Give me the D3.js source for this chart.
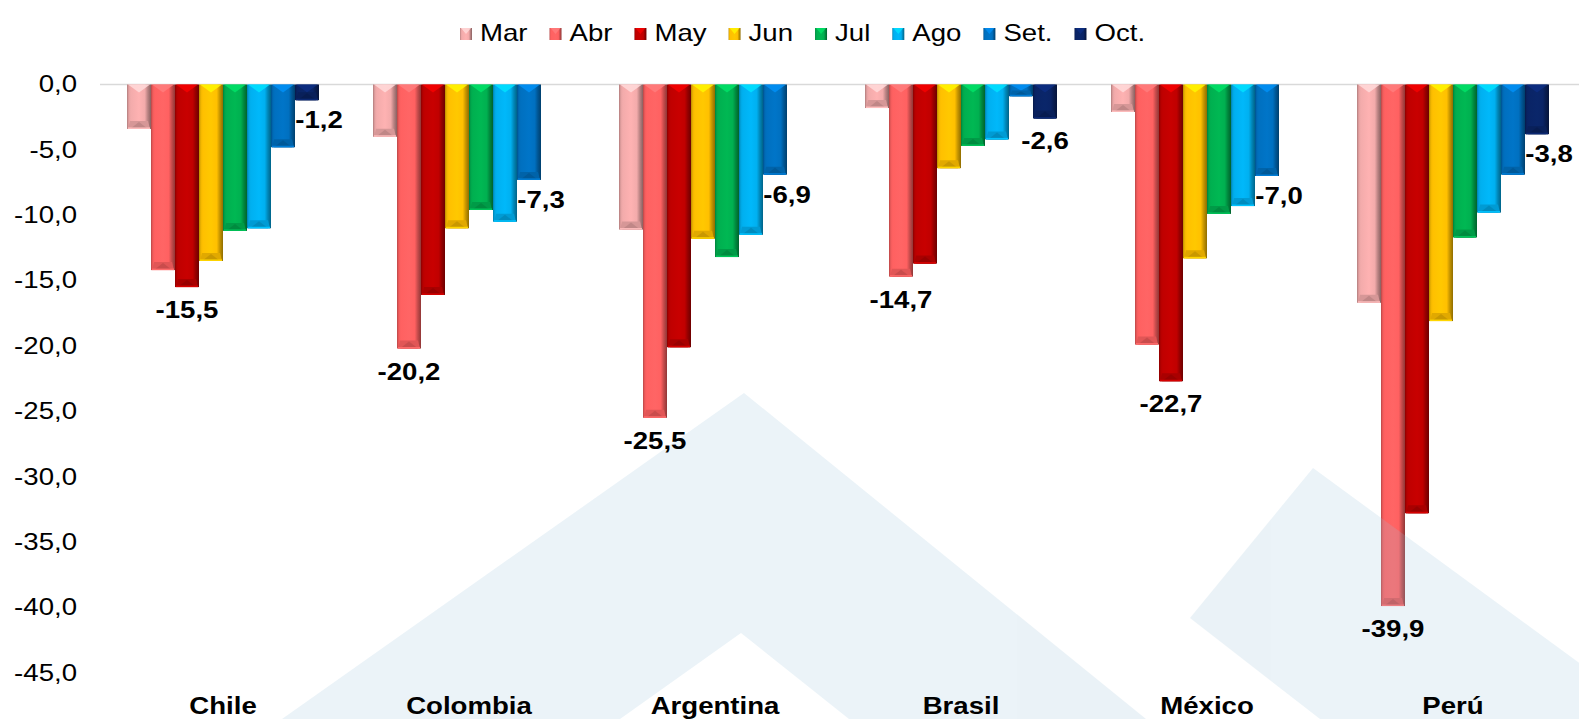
<!DOCTYPE html>
<html>
<head>
<meta charset="utf-8">
<script src="https://cdn.jsdelivr.net/npm/d3@7"></script>
<style>
  html, body { margin: 0; padding: 0; background: #ffffff; }
  svg { display: block; }
  text { font-family: "Liberation Sans", Arial, sans-serif; }
</style>
</head>
<body>
<svg id="chart" width="1579" height="719"></svg>
<script>
// ---- data ----
const countries = ["Chile", "Colombia", "Argentina", "Brasil", "México", "Perú"];
const months = ["Mar", "Abr", "May", "Jun", "Jul", "Ago", "Set.", "Oct."];
const mar = [-3.4, -4.0, -11.1, -1.8, -2.1, -16.7];
const abr = [-14.2, -20.2, -25.5, -14.7, -19.9, -39.9];
const may = [-15.5, -16.1, -20.1, -13.7, -22.7, -32.8];
const jun = [-13.5, -11.0, -11.8, -6.4, -13.3, -18.1];
const jul = [-11.2, -9.6, -13.2, -4.7, -9.9, -11.7];
const ago = [-11.0, -10.5, -11.5, -4.2, -9.3, -9.8];
const sep = [-4.8, -7.3, -6.9, -0.9, -7.0, -6.9];
const oct = [-1.2, null, null, -2.6, null, -3.8];
const yTicks = [0, -5, -10, -15, -20, -25, -30, -35, -40, -45];
// which bars carry a value label, and how it is anchored
const labeled = [
  ["Chile", "May", "below"], ["Chile", "Oct.", "right"],
  ["Colombia", "Abr", "below"], ["Colombia", "Set.", "right"],
  ["Argentina", "Abr", "below"], ["Argentina", "Set.", "right"],
  ["Brasil", "Abr", "below"], ["Brasil", "Oct.", "below"],
  ["México", "May", "below"], ["México", "Set.", "right"],
  ["Perú", "Abr", "below"], ["Perú", "Oct.", "right"]
];

const seriesValues = [mar, abr, may, jun, jul, ago, sep, oct];
const colors = ["#F3ABAB", "#FF6161", "#C00000", "#FFC000", "#00B050", "#00B0F0", "#0070C0", "#0A2466"];

const rows = [];
countries.forEach((c, ci) => months.forEach((m, mi) => {
  const v = seriesValues[mi][ci];
  if (v !== null && v !== undefined) rows.push({ country: c, month: m, mi, value: v });
}));

// ---- layout ----
const svg = d3.select("#chart");
const FONT = 23, SX = 1.2;
const fmt = d => d.toFixed(1).replace(".", ",").replace("-0,0", "0,0");

const x0 = d3.scaleBand().domain(countries).range([100, 1576]).paddingInner(0).paddingOuter(0);
const x1 = d3.scaleBand().domain(months).range([0, x0.bandwidth()]).paddingInner(0).paddingOuter(1.125);
const y = d3.scaleLinear().domain([-45, 0]).range([672.7, 84.5]);

// gradients
const defs = svg.append("defs");
colors.forEach((col, i) => {
  const c = d3.color(col);
  const g = defs.append("linearGradient").attr("id", "g" + i)
    .attr("x1", "0%").attr("x2", "100%").attr("y1", "0%").attr("y2", "0%");
  const st = [
    [0, c.darker(0.9)], [0.08, c.darker(0.15)], [0.16, c], [0.5, c.brighter(0.12)],
    [0.74, c], [0.86, c.darker(0.7)], [1, c.darker(1.6)]
  ];
  st.forEach(([o, cc]) => g.append("stop").attr("offset", o).attr("stop-color", cc.formatHex()));
});

// zero line
svg.append("line")
  .attr("x1", 100).attr("x2", 1579)
  .attr("y1", y(0)).attr("y2", y(0))
  .attr("stroke", "#D9D9D9").attr("stroke-width", 1.5);

// bars
const groups = svg.append("g").selectAll("g").data(countries).join("g")
  .attr("transform", d => `translate(${x0(d)},0)`);

groups.each(function (c) {
  const g = d3.select(this);
  const data = rows.filter(r => r.country === c);
  const bar = g.selectAll("g.bar").data(data).join("g").attr("class", "bar");
  bar.each(function (d) {
    const b = d3.select(this);
    const bx = x1(d.month), w = x1.bandwidth();
    const top = y(0), bot = y(d.value), h = bot - top;
    const col = d3.color(colors[d.mi]);
    b.append("rect").attr("x", bx).attr("y", top).attr("width", w).attr("height", h)
      .attr("fill", `url(#g${d.mi})`);
    const th = Math.min(8, h / 2);
    // top bevel highlight
    b.append("path")
      .attr("d", `M${bx + 1},${top} L${bx + w - 1},${top} L${bx + w / 2},${top + th} Z`)
      .attr("fill", col.brighter(0.7).formatHex()).attr("opacity", 0.85);
    // bottom bevel
    b.append("path")
      .attr("d", `M${bx + 1},${bot} L${bx + w - 1},${bot} L${bx + w - 3},${bot - th} L${bx + 3},${bot - th} Z`)
      .attr("fill", col.darker(0.35).formatHex());
    b.append("path")
      .attr("d", `M${bx + 3},${bot} L${bx + w - 3},${bot} L${bx + w / 2},${bot - th + 1} Z`)
      .attr("fill", col.darker(0.75).formatHex()).attr("opacity", 0.8);
    b.append("rect").attr("x", bx + 1).attr("y", bot - 1.5).attr("width", w - 2).attr("height", 1.5)
      .attr("fill", col.brighter(0.3).formatHex());
  });
});

// watermark (decorative mountains), drawn translucent over the bars
const wm = svg.append("g").attr("fill", "#9CC2DA").attr("opacity", 0.2);
wm.append("path").attr("fill-rule", "evenodd")
  .attr("d", "M282,719 L744,393 L1146,719 Z M620,719 L741,633 L849,719 Z");
wm.append("path")
  .attr("d", "M1190,618 L1313,468 L1900,898 L1450,820 Z");

// y axis
const yAxis = svg.append("g").attr("transform", "translate(77,0)")
  .call(d3.axisLeft(y).tickValues(yTicks).tickFormat(fmt).tickSize(0).tickPadding(0));
yAxis.select(".domain").remove();
yAxis.selectAll("text")
  .attr("font-family", "'Liberation Sans', Arial, sans-serif")
  .attr("font-size", FONT).attr("fill", "#000")
  .attr("transform", `scale(${SX},1)`);

// category labels
svg.append("g").selectAll("text").data(countries).join("text")
  .attr("transform", d => `translate(${x0(d) + x0.bandwidth() / 2},714) scale(${SX},1)`)
  .attr("text-anchor", "middle").attr("font-size", FONT).attr("font-weight", "bold")
  .attr("fill", "#000").text(d => d);

// value labels
const lab = labeled.map(([c, m, a]) => {
  const r = rows.find(rr => rr.country === c && rr.month === m);
  return { ...r, anchor: a };
});
svg.append("g").selectAll("text").data(lab).join("text")
  .attr("transform", d => {
    const bx = x0(d.country) + x1(d.month);
    const cx = d.anchor === "right" ? bx + x1.bandwidth() : bx + x1.bandwidth() / 2;
    const by = y(d.value) + (d.anchor === "right" ? 28 : 31);
    return `translate(${cx},${by}) scale(${SX},1)`;
  })
  .attr("text-anchor", "middle").attr("font-size", FONT).attr("font-weight", "bold")
  .attr("fill", "#000").text(d => fmt(d.value));

// legend
const leg = svg.append("g");
let lx = 460;
months.forEach((m, i) => {
  const it = leg.append("g");
  it.append("rect").attr("x", lx).attr("y", 28).attr("width", 12).attr("height", 12)
    .attr("fill", `url(#g${i})`);
  it.append("path")
    .attr("d", `M${lx + 1},28 L${lx + 11},28 L${lx + 6},34 Z`)
    .attr("fill", d3.color(colors[i]).brighter(0.7).formatHex()).attr("opacity", 0.8);
  const t = it.append("text").attr("transform", `translate(${lx + 20},41) scale(${SX},1)`)
    .attr("font-size", FONT).attr("fill", "#000").text(m);
  const tw = t.node().getComputedTextLength() * SX;
  lx += 20 + tw + 22;
});
</script>
</body>
</html>
